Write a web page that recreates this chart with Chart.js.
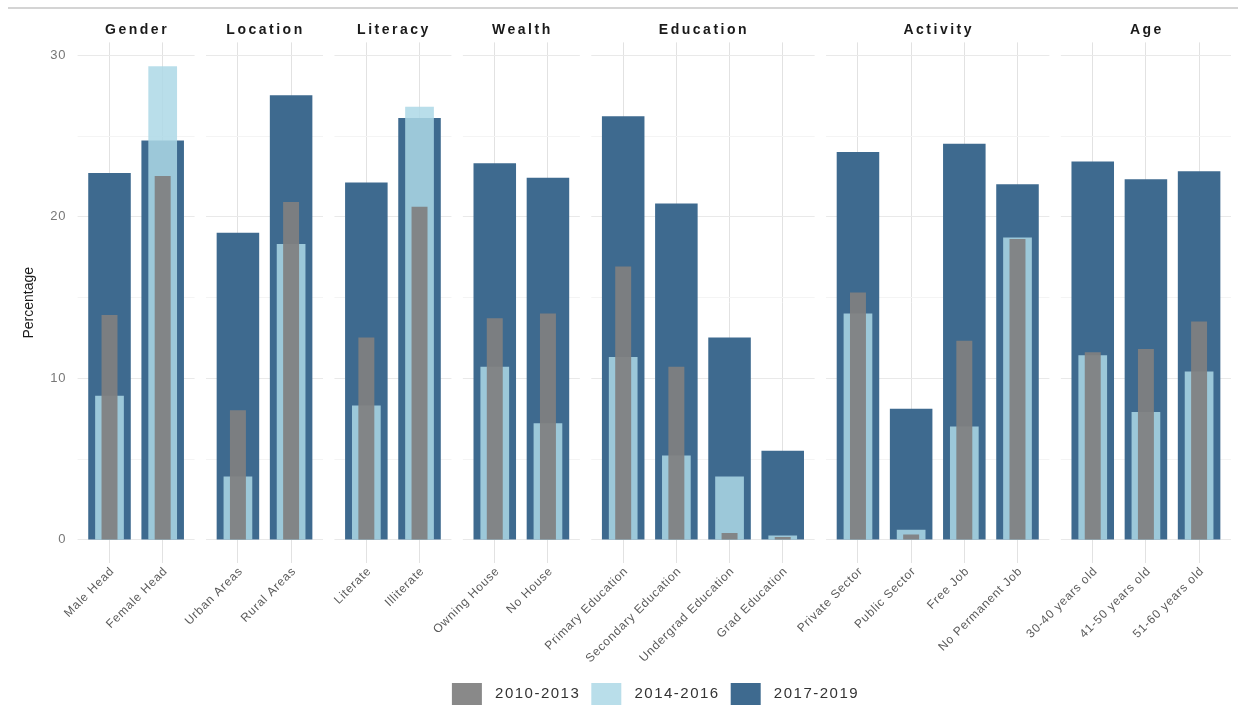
<!DOCTYPE html>
<html><head><meta charset="utf-8">
<script src="https://cdn.jsdelivr.net/npm/chart.js@4.4.1/dist/chart.umd.min.js"></script>
<style>html,body{margin:0;padding:0;background:#fff;} #wrap{width:1238px;height:707px;position:relative;}</style>
</head><body><div id="wrap"><canvas id="c" width="1238" height="707"></canvas></div>
<script>
// ---- data ----
const facets = ["Gender","Location","Literacy","Wealth","Education","Activity","Age"];
const facetSizes = [2,2,2,2,4,4,3];
const categories = ["Male Head","Female Head","Urban Areas","Rural Areas","Literate","Illiterate",
  "Owning House","No House","Primary Education","Secondary Education","Undergrad Education","Grad Education",
  "Private Sector","Public Sector","Free Job","No Permanent Job","30-40 years old","41-50 years old","51-60 years old"];
const seriesLabels = ["2010-2013","2014-2016","2017-2019"];
const values2010_2013 = [13.9,22.5, 8.0,20.9, 12.5,20.6, 13.7,14.0, 16.9,10.7,0.4,0.15, 15.3,0.3,12.3,18.6, 11.6,11.8,13.5];
const values2014_2016 = [8.9,29.3, 3.9,18.3, 8.3,26.8, 10.7,7.2, 11.3,5.2,3.9,0.25, 14.0,0.6,7.0,18.7, 11.4,7.9,10.4];
const values2017_2019 = [22.7,24.7, 19.0,27.5, 22.1,26.1, 23.3,22.4, 26.2,20.8,12.5,5.5, 24.0,8.1,24.5,22.0, 23.4,22.3,22.8];
const yTicks = [0,10,20,30];
const yMinorTicks = [5,15,25];

// ---- layout helpers (facet spacing, not data) ----
const GAP = 0.415, EXP = 0.6;
const xPos = [], facetRanges = [];
(function(){
  let idx = 0;
  facets.forEach((f, fi) => {
    const start = idx;
    for (let k = 0; k < facetSizes[fi]; k++) { xPos.push(idx + fi * GAP); idx++; }
    facetRanges.push([xPos[start] - EXP, xPos[idx - 1] + EXP, xPos[start], xPos[idx - 1]]);
  });
})();
const pts = vals => vals.map((v, i) => ({x: xPos[i], y: v}));

Chart.defaults.font.family = "'Liberation Sans', Arial, sans-serif";

function withSpacing(obj, name, sp) {
  const orig = obj[name];
  obj[name] = function(...a) {
    const c = this.ctx; c.save();
    try { c.letterSpacing = sp; } catch(e) {}
    const r = orig.apply(this, a);
    c.restore(); return r;
  };
}

const panelGrid = {
  id: 'panelGrid',
  afterInit(chart) {
    if (chart.legend) { withSpacing(chart.legend, 'fit', '1.5px'); withSpacing(chart.legend, 'draw', '1.5px'); }
  },
  beforeDraw(chart) {
    const sx = chart.scales.x, sy = chart.scales.y;
    if (sx && !sx._sp) { withSpacing(sx, 'drawLabels', '0.8px'); sx._sp = true; }
    if (sy && !sy._sp) { withSpacing(sy, 'drawLabels', '1px'); sy._sp = true; }
  },
  beforeDatasetsDraw(chart) {
    const {ctx, scales: {x, y}} = chart;
    ctx.save();
    ctx.lineWidth = 1;
    facetRanges.forEach(r => {
      const x0 = x.getPixelForValue(r[0]), x1 = x.getPixelForValue(r[1]);
      yMinorTicks.forEach(v => {
        const py = Math.round(y.getPixelForValue(v)) + 0.5;
        ctx.strokeStyle = '#f4f4f4';
        ctx.beginPath(); ctx.moveTo(x0, py); ctx.lineTo(x1, py); ctx.stroke();
      });
      yTicks.forEach(v => {
        const py = Math.round(y.getPixelForValue(v)) + 0.5;
        ctx.strokeStyle = '#e9e9e9';
        ctx.beginPath(); ctx.moveTo(x0, py); ctx.lineTo(x1, py); ctx.stroke();
      });
    });
    ctx.restore();
  },
  afterDraw(chart) {
    const {ctx, scales: {x}} = chart;
    ctx.save();
    ctx.font = "bold 14px 'Liberation Sans', Arial, sans-serif";
    ctx.fillStyle = '#1a1a1a';
    ctx.textAlign = 'center';
    ctx.textBaseline = 'middle';
    try { ctx.letterSpacing = '2.5px'; } catch(e) {}
    facetRanges.forEach((r, fi) => {
      const cx = (x.getPixelForValue(r[2]) + x.getPixelForValue(r[3])) / 2;
      ctx.fillText(facets[fi], cx + 1, 30);
    });
    try { ctx.letterSpacing = '0px'; } catch(e) {}
    ctx.strokeStyle = '#d4d4d4';
    ctx.lineWidth = 2;
    ctx.beginPath(); ctx.moveTo(8, 8); ctx.lineTo(1238, 8); ctx.stroke();
    ctx.restore();
  },
  afterLayout(chart) {
    if (chart.legend) {
      chart.legend.top += 8; chart.legend.bottom += 8;
      chart.legend.left += 40; chart.legend.right += 40;
    }
  }
};

new Chart(document.getElementById('c'), {
  type: 'bar',
  data: {
    datasets: [
      {label: seriesLabels[0], data: pts(values2010_2013), backgroundColor: 'rgba(128,128,128,0.93)',
       barPercentage: 0.3, categoryPercentage: 1, grouped: false},
      {label: seriesLabels[1], data: pts(values2014_2016), backgroundColor: 'rgba(173,216,230,0.85)',
       barPercentage: 0.54, categoryPercentage: 1, grouped: false},
      {label: seriesLabels[2], data: pts(values2017_2019), backgroundColor: '#3e6a8f',
       barPercentage: 0.8, categoryPercentage: 1, grouped: false}
    ]
  },
  options: {
    responsive: false,
    animation: false,
    layout: {padding: {top: 42.4, left: 0, right: 7, bottom: 0}},
    plugins: {
      tooltip: {enabled: false},
      legend: {
        position: 'bottom',
        labels: {
          boxWidth: 30, boxHeight: 22, padding: 11, color: '#333', font: {size: 15},
          generateLabels: chart => Chart.defaults.plugins.legend.labels.generateLabels(chart)
            .map(l => Object.assign(l, {text: ' ' + l.text}))
        }
      }
    },
    scales: {
      x: {
        type: 'linear',
        min: facetRanges[0][0], max: facetRanges[facetRanges.length - 1][1],
        offset: false,
        afterBuildTicks: s => { s.ticks = xPos.map(v => ({value: v})); },
        ticks: {autoSkip: false, maxRotation: 45, minRotation: 45, color: '#5a5a5a', font: {size: 12},
                padding: 1, labelOffset: 3, callback: (v, i) => categories[i]},
        grid: {color: '#e2e2e2', drawTicks: false, lineWidth: 1, offset: false},
        border: {display: false},
        afterFit: s => { s.height = 100.8; }
      },
      y: {
        min: -1.47, max: 30.78,
        afterBuildTicks: s => { s.ticks = yTicks.map(v => ({value: v})); },
        ticks: {color: '#777', font: {size: 13}, padding: 3},
        grid: {display: false},
        border: {display: false},
        title: {display: true, text: 'Percentage', color: '#1a1a1a', font: {size: 14}, padding: {top: 21, bottom: 0}},
        afterFit: s => { s.width = 77.6; }
      }
    }
  },
  plugins: [panelGrid]
});
</script></body></html>
